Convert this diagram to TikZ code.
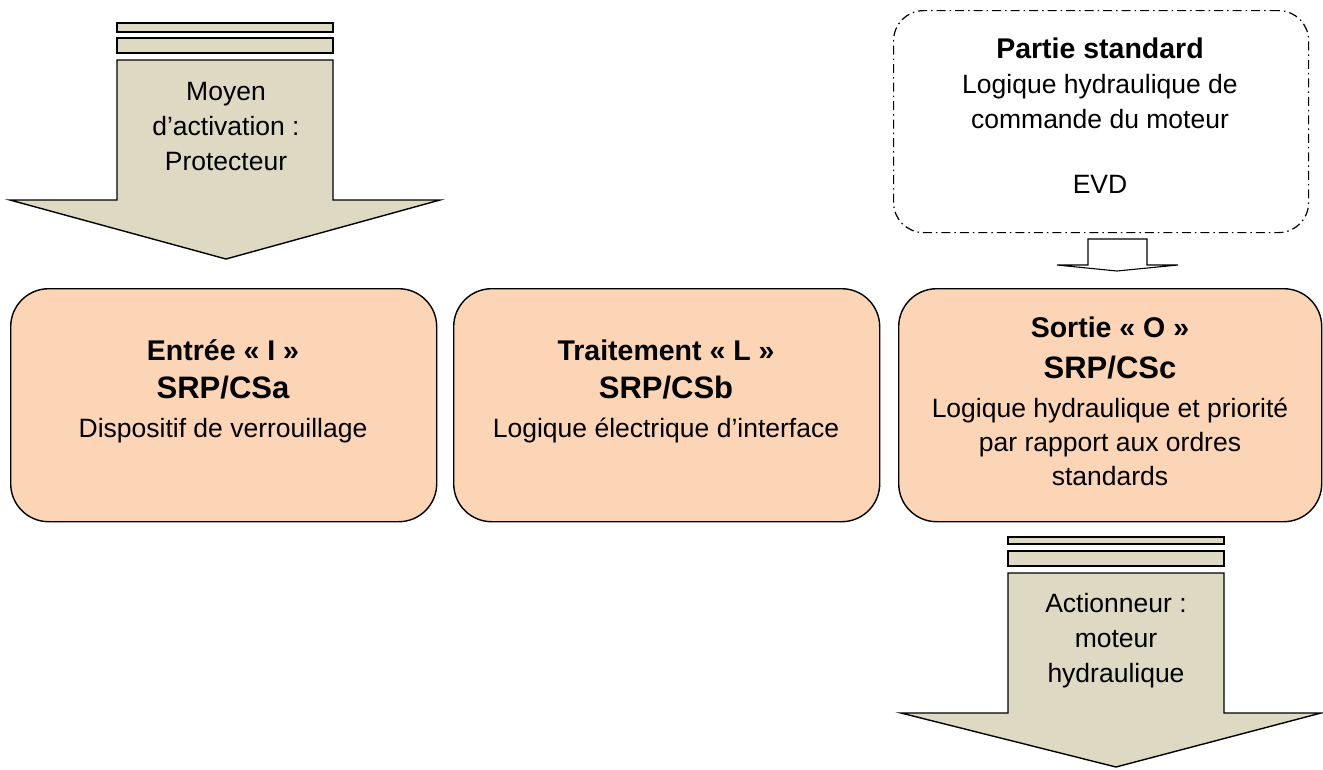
\documentclass[tikz,border=0pt]{standalone}
\usepackage{fontspec}
\setmainfont{Liberation Sans}
\definecolor{peach}{RGB}{251,213,181}
\definecolor{khaki}{RGB}{221,217,195}
\begin{document}
\begin{tikzpicture}[x=1pt,y=-1pt,
  blk/.style={draw=black, line width=1.4pt, fill=peach, rounded corners=38pt, inner sep=0pt, anchor=north west},
  arr/.style={draw=black, line width=1.4pt, fill=khaki, line join=miter},
  txt/.style={anchor=base, inner sep=0pt, font=\fontsize{26.5}{30}\selectfont},
  btxt/.style={anchor=base, inner sep=0pt, font=\fontsize{28.5}{32}\selectfont\bfseries},
  bigtxt/.style={anchor=base, inner sep=0pt, font=\fontsize{31}{34}\selectfont\bfseries},
  dashbox/.style={draw=black, line width=1.2pt, rounded corners=30pt, dash pattern=on 9pt off 4pt on 1.5pt off 4pt, inner sep=0pt, anchor=north west}
]
\useasboundingbox (0,0) rectangle (1323,769);

% Top-left activation arrow
\draw[arr] (117,23) rectangle (333,32);
\draw[arr] (117,38) rectangle (333,53);
\draw[arr] (117,60) -- (333,60) -- (333,200) -- (440,200) -- (226,259) -- (10,200) -- (117,200) -- cycle;
\node[txt] (m1) at (226,100) {Moyen};
\node[txt] (m2) at (226,135) {d’activation :};
\node[txt] (m3) at (226,170) {Protecteur};

% Standard part (dash-dot)
\node[dashbox, minimum width=415pt, minimum height=222pt] (std) at (893,10) {};
\node[btxt] (s1) at (1100,58) {Partie standard};
\node[txt] (s2) at (1100,93) {Logique hydraulique de};
\node[txt] (s3) at (1100,128) {commande du moteur};
\node[txt] (s4) at (1100,193) {EVD};

% small arrow
\draw[draw=black, line width=1.1pt, fill=white, line join=miter]
  (1088,239) -- (1147,239) -- (1147,265) -- (1178,265) -- (1117,271) -- (1057,265) -- (1088,265) -- cycle;

% Boxes
\node[blk, minimum width=426pt, minimum height=233pt] (b1) at (10,288) {};
\node[blk, minimum width=426pt, minimum height=233pt] (b2) at (453,288) {};
\node[blk, minimum width=423pt, minimum height=233pt] (b3) at (898,288) {};

\node[btxt] (e1) at (223,360) {Entrée « I »};
\node[bigtxt] (e2) at (223,398) {SRP/CSa};
\node[txt] (e3) at (223,437) {Dispositif de verrouillage};

\node[btxt] (t1) at (666,360) {Traitement « L »};
\node[bigtxt] (t2) at (666,398) {SRP/CSb};
\node[txt] (t3) at (666,437) {Logique électrique d’interface};

\node[btxt] (o1) at (1110,337) {Sortie « O »};
\node[bigtxt] (o2) at (1110,378) {SRP/CSc};
\node[txt] (o3) at (1110,417) {Logique hydraulique et priorité};
\node[txt] (o4) at (1110,451) {par rapport aux ordres};
\node[txt] (o5) at (1110,485) {standards};

% Bottom-right actuator arrow
\draw[arr] (1008,537) rectangle (1224,544);
\draw[arr] (1008,551) rectangle (1224,566);
\draw[arr] (1008,573) -- (1224,573) -- (1224,713) -- (1321,713) -- (1116,767) -- (901,713) -- (1008,713) -- cycle;
\node[txt] (a1) at (1116,612) {Actionneur :};
\node[txt] (a2) at (1116,647) {moteur};
\node[txt] (a3) at (1116,682) {hydraulique};
\end{tikzpicture}
\end{document}
